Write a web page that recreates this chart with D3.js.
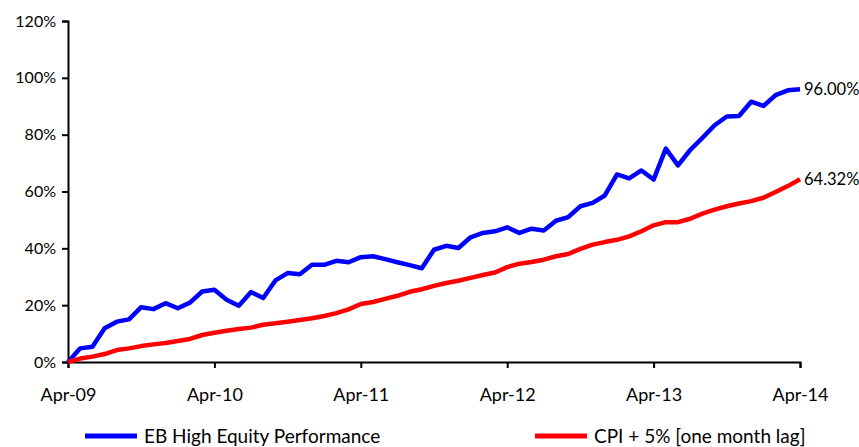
<!DOCTYPE html>
<html><head><meta charset="utf-8">
<script src="https://cdn.jsdelivr.net/npm/d3@7"></script>
<style>html,body{margin:0;padding:0;background:#fff;}svg{display:block;font-family:Lato,"Open Sans",sans-serif;}</style>
</head><body>
<svg id="c" width="859" height="447"></svg>
<script>
const startMonth = "2009-04";
const yearTicks = ["Apr-09","Apr-10","Apr-11","Apr-12","Apr-13","Apr-14"];
const yTicks = [0,20,40,60,80,100,120];
const seriesNames = ["EB High Equity Performance","CPI + 5% [one month lag]"];
const ebHighEquity = [0,4.8,5.4,11.9,14.2,15.0,19.3,18.6,20.7,18.9,20.9,24.8,
 25.4,21.9,19.8,24.6,22.5,28.7,31.3,30.9,34.2,34.2,35.6,35.1,
 36.9,37.2,36.2,35.1,34.1,33.0,39.5,40.9,40.1,43.9,45.4,46.0,
 47.4,45.4,46.9,46.3,49.7,51.0,54.8,56.0,58.6,66.0,64.6,67.4,
 64.2,75.1,69.2,74.6,78.9,83.3,86.4,86.6,91.6,90.1,93.9,95.6,96.0];
const cpiPlus5 = [0,1.2,1.9,2.8,4.2,4.8,5.6,6.2,6.7,7.4,8.1,9.5,
 10.3,11.0,11.6,12.1,13.1,13.6,14.2,14.8,15.4,16.2,17.2,18.5,
 20.4,21.1,22.2,23.3,24.7,25.6,26.8,27.8,28.6,29.6,30.6,31.5,
 33.4,34.6,35.2,36.0,37.2,38.0,39.8,41.3,42.2,43.0,44.2,46.0,
 48.1,49.2,49.2,50.4,52.2,53.6,54.8,55.8,56.6,57.8,59.8,61.9,64.32];
const endLabels = ["96.00%","64.32%"];
const colors = ["#0000FF","#FF0000"];

const svg = d3.select("#c");
const x = d3.scaleLinear().domain([0, ebHighEquity.length-1]).range([68, 800]);
const y = d3.scaleLinear().domain([0,120]).range([362, 21]);

// y axis
const yAx = svg.append("g").attr("transform","translate(68,0)")
  .call(d3.axisLeft(y).tickValues(yTicks).tickSize(6).tickPadding(6).tickFormat(d=>d+"%"));
yAx.select(".domain").attr("stroke","#000").attr("stroke-width",2);
yAx.selectAll(".tick line").attr("stroke","#000").attr("stroke-width",2);
yAx.selectAll(".tick text").attr("font-size",16).attr("fill","#000").attr("font-family","Lato");

// x axis
const xAx = svg.append("g").attr("transform","translate(0,362)")
  .call(d3.axisBottom(x).tickValues(yearTicks.map((d,i)=>i*12)).tickSize(6).tickPadding(20)
    .tickFormat((d,i)=>yearTicks[i]));
xAx.select(".domain").attr("stroke","#000").attr("stroke-width",2);
xAx.selectAll(".tick line").attr("stroke","#000").attr("stroke-width",2);
xAx.selectAll(".tick text").attr("font-size",18).attr("fill","#000").attr("font-family","Lato");

const line = d3.line().x((d,i)=>x(i)).y(d=>y(d));
[ebHighEquity, cpiPlus5].forEach((s,k)=>{
  svg.append("path").datum(s).attr("d",line).attr("fill","none")
    .attr("stroke",colors[k]).attr("stroke-width",4.5).attr("stroke-linejoin","round");
  svg.append("text").attr("x", x(s.length-1)+4).attr("y", y(s[s.length-1]))
    .attr("dy","0.35em").attr("font-size",16.5).attr("fill","#000").text(endLabels[k]);
});

// legend
const legX = [85, 535];
seriesNames.forEach((n,k)=>{
  const g = svg.append("g").attr("transform",`translate(${legX[k]},436)`);
  g.append("line").attr("x1",0).attr("x2",52).attr("stroke",colors[k]).attr("stroke-width",5);
  g.append("text").attr("x",59).attr("dy","0.35em").attr("font-size",19).attr("fill","#000").text(n);
});
</script>
</body></html>
